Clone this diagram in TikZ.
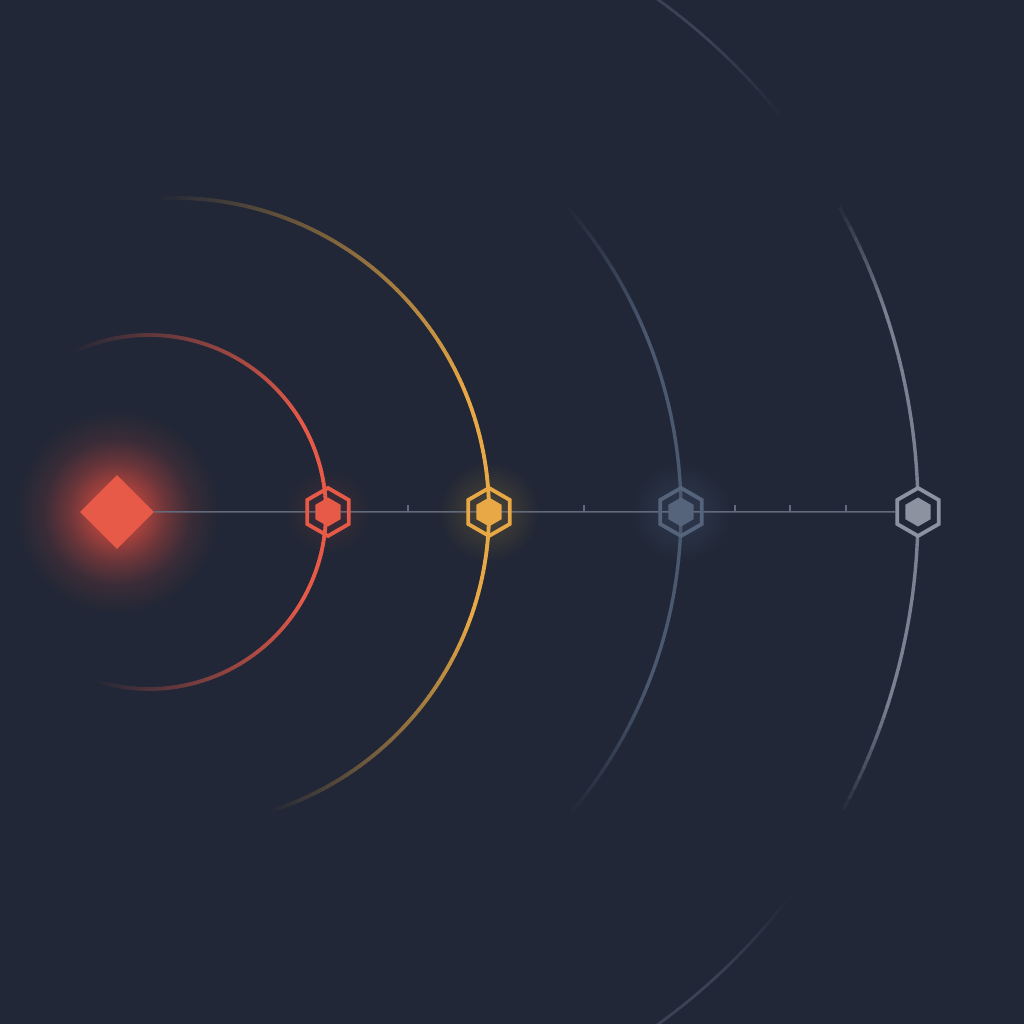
\documentclass[tikz,border=0pt]{standalone}
\usetikzlibrary{shapes.geometric}
\definecolor{bgc}{HTML}{212736}
\definecolor{redc}{HTML}{E85A48}
\definecolor{yelc}{HTML}{E8A845}
\definecolor{bluearc}{HTML}{4A5870}
\definecolor{bluehex}{HTML}{55637B}
\definecolor{grayarc}{HTML}{7A8192}
\definecolor{grayhex}{HTML}{8C929F}
\definecolor{faintc}{HTML}{3A4356}
\definecolor{linec}{HTML}{636A7B}
\definecolor{glowr}{HTML}{C4473E}
\definecolor{glowy}{HTML}{4E4536}
\definecolor{glowb}{HTML}{2F3A52}
\definecolor{glowrs}{HTML}{432C36}
\pgfdeclareradialshading{redglow}{\pgfpoint{0bp}{0bp}}{color(0bp)=(glowr); color(6bp)=(glowr!85!bgc); color(12bp)=(glowr!45!bgc); color(18bp)=(glowr!15!bgc); color(25bp)=(bgc); color(50bp)=(bgc)}
\pgfdeclareradialshading{yelglow}{\pgfpoint{0bp}{0bp}}{color(0bp)=(glowy); color(10bp)=(glowy!60!bgc); color(25bp)=(bgc); color(50bp)=(bgc)}
\pgfdeclareradialshading{bluglow}{\pgfpoint{0bp}{0bp}}{color(0bp)=(glowb); color(10bp)=(glowb!60!bgc); color(25bp)=(bgc); color(50bp)=(bgc)}
\pgfdeclareradialshading{redsglow}{\pgfpoint{0bp}{0bp}}{color(0bp)=(glowrs); color(10bp)=(glowrs!60!bgc); color(25bp)=(bgc); color(50bp)=(bgc)}
% #1 colour, #2 width, #3 cx, #4 cy, #5 r, #6 start, #7 full from, #8 full to, #9 end
\newcommand{\fadingarc}[9]{%
  \pgfmathtruncatemacro\fadeN{(#9)-(#6)}%
  \foreach \i in {0,...,\fadeN}{%
    \pgfmathsetmacro\fadeA{(#6)+\i}%
    \pgfmathsetmacro\fadeLo{(\fadeA-(#6))/((#7)-(#6))}%
    \pgfmathsetmacro\fadeHi{((#9)-\fadeA)/((#9)-(#8))}%
    \pgfmathsetmacro\fadeP{100*max(0,min(1,min(\fadeLo,\fadeHi)))}%
    \draw[line width=#2, line cap=round, color=#1!\fadeP!bgc]
      ({#3+#5*cos(\fadeA)},{#4+#5*sin(\fadeA)}) arc[start angle=\fadeA, end angle=\fadeA+1.05, radius=#5];
  }%
}
\tikzset{
  hexout/.style={regular polygon, regular polygon sides=6, minimum size=48pt, inner sep=0pt, line width=3.8pt, rotate=30},
  hexin/.style={regular polygon, regular polygon sides=6, minimum size=29pt, inner sep=0pt, rotate=30},
  axisline/.style={draw=linec, line width=1.5pt},
  tick/.style={draw=linec, line width=1.2pt}
}
\begin{document}
\begin{tikzpicture}[x=1pt,y=1pt]
\useasboundingbox (0,0) rectangle (1024,1024);
\fill[bgc] (0,0) rectangle (1024,1024);
% glows
\shade[shading=redglow] (117,512) circle (102);
\shade[shading=redsglow] (328,512) circle (42);
\shade[shading=yelglow] (489,512) circle (50);
\shade[shading=bluglow] (681,512) circle (50);
% arcs
\fadingarc{redc}{3.8pt}{149}{512}{177}{-108}{-30}{30}{116}
\fadingarc{yelc}{3.8pt}{175}{512}{314}{-73}{-20}{22}{93}
\fadingarc{bluearc}{3.4pt}{215}{512}{466}{-41}{-22}{22}{41}
\fadingarc{grayarc}{3.4pt}{288}{512}{630}{-29}{-18}{18}{29}
\fadingarc{faintc}{2.8pt}{288}{512}{632}{38}{48}{58}{62}
\fadingarc{faintc}{2.8pt}{288}{512}{632}{-62}{-58}{-48}{-38}
% nodes
\node[diamond, fill=redc, minimum size=74pt, inner sep=0pt] (src) at (117,512) {};
\node[hexout] (h1) at (328,512) {};
\node[hexout] (h2) at (489,512) {};
\node[hexout] (h3) at (681,512) {};
\node[hexout] (h4) at (918,512) {};
% axis
\draw[axisline] (src.east) -- (h4);
\coordinate (t1) at (408,512);
\coordinate (t2) at (584,512);
\coordinate (t3) at (735,512);
\coordinate (t4) at (790,512);
\coordinate (t5) at (846,512);
\foreach \t in {t1,t2,t3,t4,t5} \draw[tick] (\t) -- ++(0,7);
% hexagons
\node[hexout, draw=redc] at (h1) {};
\node[hexin, fill=redc] (h1i) at (h1) {};
\node[hexout, draw=yelc] at (h2) {};
\node[hexin, fill=yelc] (h2i) at (h2) {};
\node[hexout, draw=bluehex] at (h3) {};
\node[hexin, fill=bluehex] (h3i) at (h3) {};
\node[hexout, draw=grayhex, fill=bgc] at (h4) {};
\node[hexin, fill=grayhex] (h4i) at (h4) {};
\end{tikzpicture}
\end{document}
